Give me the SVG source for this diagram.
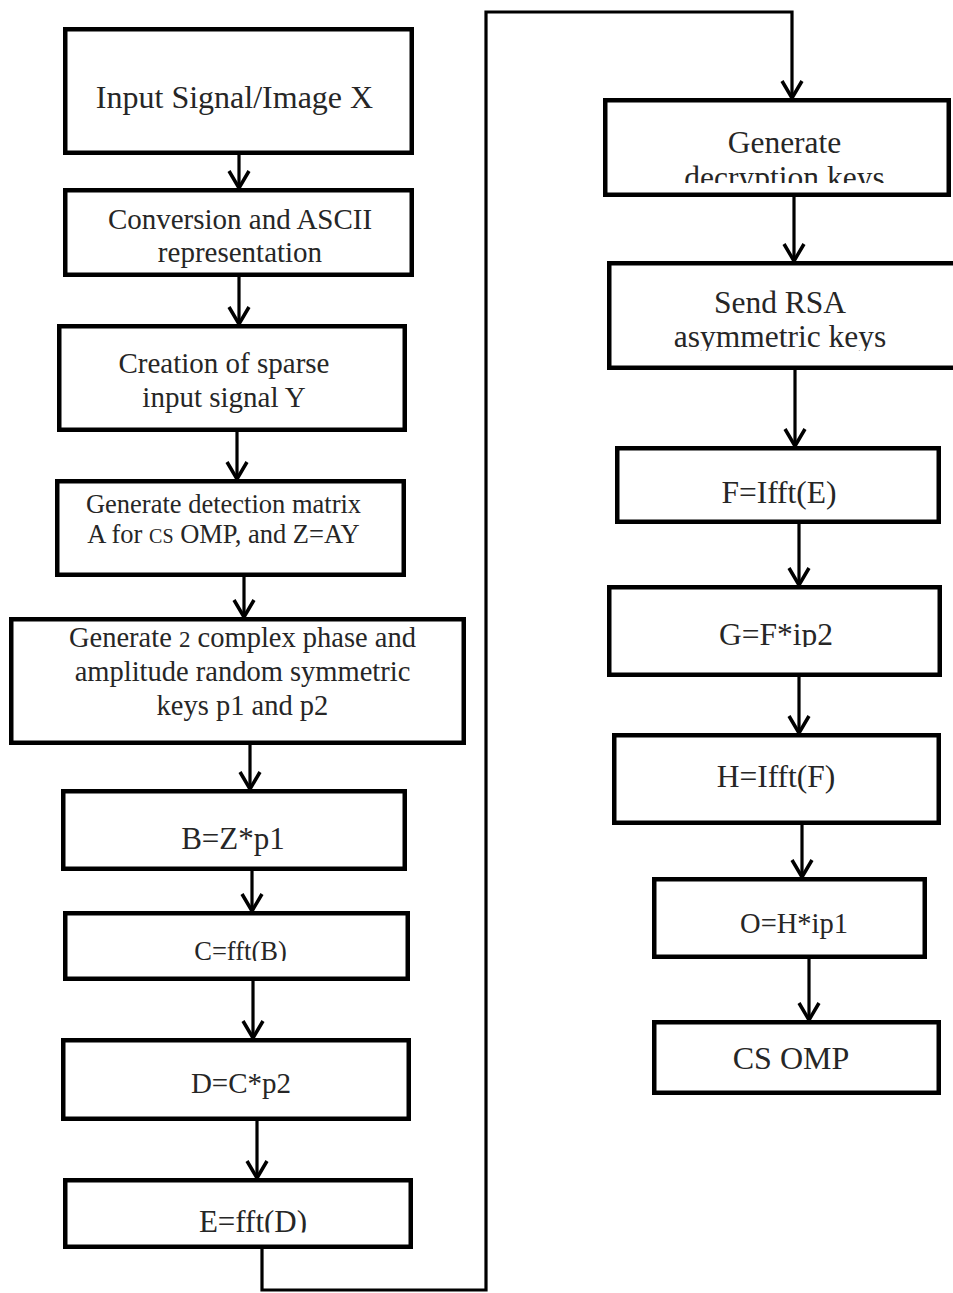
<svg xmlns="http://www.w3.org/2000/svg" width="953" height="1293" viewBox="0 0 953 1293">
<style>
.box{fill:#fff;stroke:#000;stroke-width:4.5}
.t{font-family:"Liberation Serif","Times New Roman",serif;fill:#262626;text-anchor:middle}
.c{fill:none;stroke:#000;stroke-width:3.2}
</style>
<defs>
<marker id="ah" markerUnits="userSpaceOnUse" orient="auto" refX="0" refY="0" markerWidth="40" markerHeight="40" viewBox="-20 -20 40 40" overflow="visible">
<path d="M-17,-10 L0,0 L-17,10" fill="none" stroke="#000" stroke-width="3.5"/>
</marker>
<clipPath id="clipC"><rect x="0" y="900" width="480" height="61"/></clipPath>
<clipPath id="clipE"><rect x="0" y="1170" width="480" height="62.5"/></clipPath>
<clipPath id="clipDec"><rect x="600" y="95" width="353" height="88"/></clipPath>
<clipPath id="clipRSA"><rect x="600" y="260" width="353" height="91"/></clipPath>
<clipPath id="clipG"><rect x="600" y="580" width="353" height="67"/></clipPath>
</defs>
<g id="connectors">
<line class="c" x1="239" y1="155" x2="239" y2="188" marker-end="url(#ah)"/>
<line class="c" x1="239" y1="277" x2="239" y2="324" marker-end="url(#ah)"/>
<line class="c" x1="237" y1="432" x2="237" y2="479" marker-end="url(#ah)"/>
<line class="c" x1="244" y1="577" x2="244" y2="617" marker-end="url(#ah)"/>
<line class="c" x1="250" y1="745" x2="250" y2="789" marker-end="url(#ah)"/>
<line class="c" x1="252" y1="871" x2="252" y2="911" marker-end="url(#ah)"/>
<line class="c" x1="253" y1="981" x2="253" y2="1038" marker-end="url(#ah)"/>
<line class="c" x1="257" y1="1121" x2="257" y2="1178" marker-end="url(#ah)"/>
<path class="c" d="M262,1249 V1290 H486 V12 H792 V98" stroke-width="3.6" marker-end="url(#ah)"/>
<line class="c" x1="794" y1="197" x2="794" y2="261" marker-end="url(#ah)"/>
<line class="c" x1="795" y1="370" x2="795" y2="446" marker-end="url(#ah)"/>
<line class="c" x1="799" y1="524" x2="799" y2="585" marker-end="url(#ah)"/>
<line class="c" x1="799" y1="677" x2="799" y2="733" marker-end="url(#ah)"/>
<line class="c" x1="802" y1="825" x2="802" y2="877" marker-end="url(#ah)"/>
<line class="c" x1="809" y1="959" x2="809" y2="1020" marker-end="url(#ah)"/>
</g>
<g id="n1"><rect class="box" x="65.25" y="29.25" width="346.5" height="123.5"/>
<text class="t" x="234.5" y="108" font-size="32">Input Signal/Image X</text></g>
<g id="n2"><rect class="box" x="65.25" y="190.25" width="346.5" height="84.5"/>
<text class="t" x="240" y="229" font-size="29">Conversion and ASCII</text>
<text class="t" x="240" y="262" font-size="29">representation</text></g>
<g id="n3"><rect class="box" x="59.25" y="326.25" width="345.5" height="103.5"/>
<text class="t" x="224" y="373" font-size="29">Creation of sparse</text>
<text class="t" x="224" y="407" font-size="29">input signal Y</text></g>
<g id="n4"><rect class="box" x="57.25" y="481.25" width="346.5" height="93.5"/>
<text class="t" x="223.5" y="513" font-size="26.5">Generate detection matrix</text>
<text class="t" x="223.5" y="543" font-size="26.5">A for <tspan font-size="20">CS</tspan> OMP, and Z=AY</text></g>
<g id="n5"><rect class="box" x="11.25" y="619.25" width="452.5" height="123.5"/>
<text class="t" x="242.5" y="647" font-size="28.5">Generate <tspan font-size="23">2</tspan> complex phase and</text>
<text class="t" x="242.5" y="681" font-size="28.5">amplitude random symmetric</text>
<text class="t" x="242.5" y="715" font-size="28.5">keys p1 and p2</text></g>
<g id="nB"><rect class="box" x="63.25" y="791.25" width="341.5" height="77.5"/>
<text class="t" x="233" y="849" font-size="31">B=Z*p1</text></g>
<g id="nC"><rect class="box" x="65.25" y="913.25" width="342.5" height="65.5"/>
<text class="t" x="240.5" y="960" font-size="26.5" clip-path="url(#clipC)">C=fft(B)</text></g>
<g id="nD"><rect class="box" x="63.25" y="1040.25" width="345.5" height="78.5"/>
<text class="t" x="241" y="1093" font-size="29">D=C*p2</text></g>
<g id="nE"><rect class="box" x="65.25" y="1180.25" width="345.5" height="66.5"/>
<text class="t" x="253" y="1232" font-size="31" clip-path="url(#clipE)">E=fft(D)</text></g>
<g id="nDec"><rect class="box" x="605.25" y="100.25" width="343.5" height="94.5"/>
<g clip-path="url(#clipDec)">
<text class="t" x="784.5" y="153" font-size="31.5">Generate</text>
<text class="t" x="784.5" y="188" font-size="31.5">decryption keys</text></g></g>
<g id="nRSA"><rect class="box" x="609.25" y="263.25" width="360" height="104.5"/>
<g clip-path="url(#clipRSA)">
<text class="t" x="780" y="313" font-size="31.5">Send RSA</text>
<text class="t" x="780" y="347" font-size="31.5">asymmetric keys</text></g></g>
<g id="nF"><rect class="box" x="617.25" y="448.25" width="321.5" height="73.5"/>
<text class="t" x="779" y="503" font-size="31.5">F=Ifft(E)</text></g>
<g id="nG"><rect class="box" x="609.25" y="587.25" width="330.5" height="87.5"/>
<text class="t" x="776" y="645" font-size="31.5" clip-path="url(#clipG)">G=F*ip2</text></g>
<g id="nH"><rect class="box" x="614.25" y="735.25" width="324.5" height="87.5"/>
<text class="t" x="776" y="787" font-size="31.5">H=Ifft(F)</text></g>
<g id="nO"><rect class="box" x="654.25" y="879.25" width="270.5" height="77.5"/>
<text class="t" x="794" y="933" font-size="28.5">O=H*ip1</text></g>
<g id="nCS"><rect class="box" x="654.25" y="1022.25" width="284.5" height="70.5"/>
<text class="t" x="791" y="1069" font-size="32">CS OMP</text></g>
</svg>
